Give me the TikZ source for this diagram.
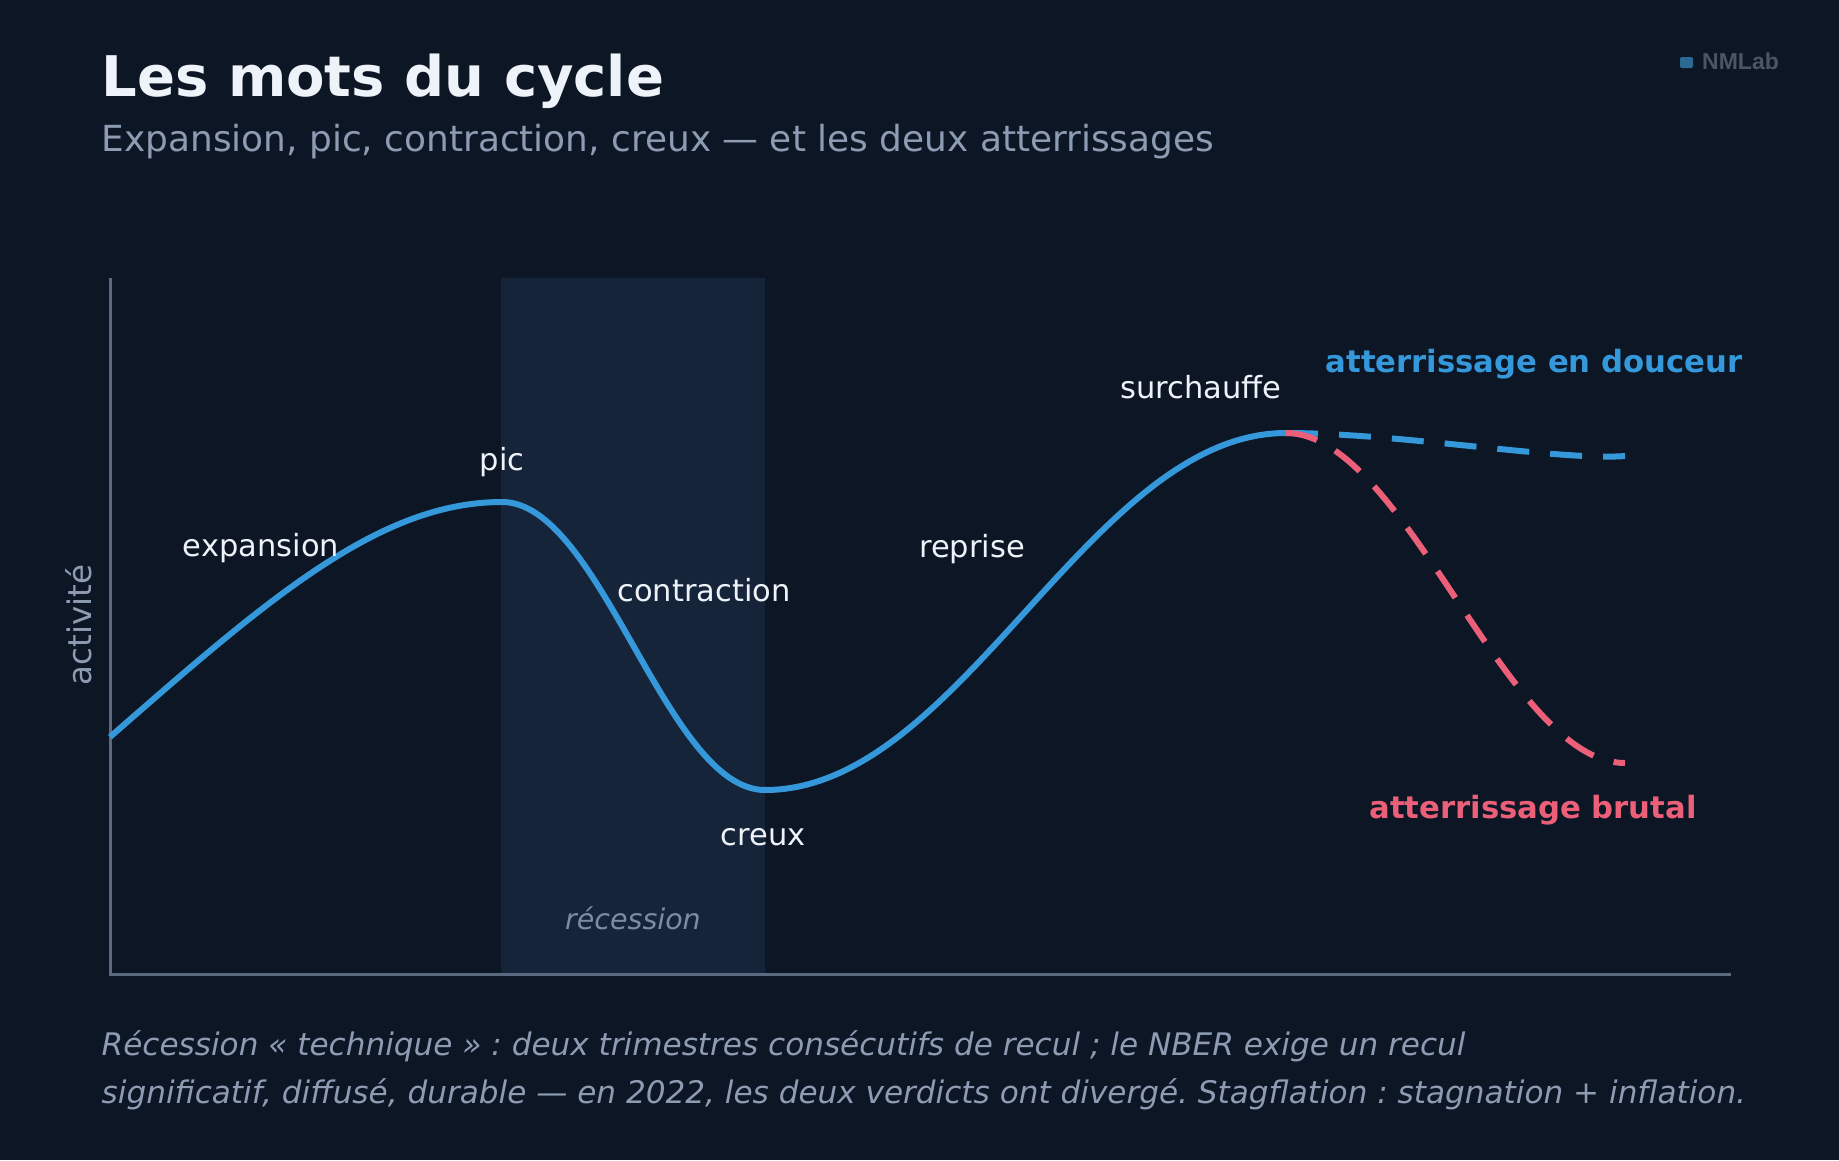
\documentclass[tikz,border=0pt]{standalone}
\usepackage{fontspec}
\setmainfont{DejaVu Sans}
\newfontfamily\logofont{Liberation Sans}
\newcommand\fsz[1]{\fontsize{#1}{#1}\selectfont}
\frenchspacing
\definecolor{bgc}{HTML}{0C1624}
\definecolor{bandc}{HTML}{16243A}
\definecolor{axisc}{HTML}{5B6A80}
\definecolor{bluec}{HTML}{3498DB}
\definecolor{redc}{HTML}{EC5F79}
\definecolor{whitec}{HTML}{EEF3F9}
\definecolor{grayc}{HTML}{8D9CB3}
\definecolor{mutedc}{HTML}{7D8CA3}
\definecolor{logoc}{HTML}{4B5566}
\definecolor{logosq}{HTML}{2D6A93}
\tikzset{
  lbl/.style={inner sep=0pt, anchor=base, text=whitec, font=\fsz{30.5}},
  axisline/.style={draw=axisc, line width=3pt},
  cyclecurve/.style={draw=bluec, line width=6pt, line join=round},
  landing/.style={line width=6pt, dash pattern=on 32pt off 21pt},
  foot/.style={inner sep=0pt, anchor=base west, text=grayc, font=\fsz{31.1}\itshape},
}
\begin{document}
\begin{tikzpicture}[x=1pt, y=-1pt]
\fill[bgc] (0,0) rectangle (1839,1160);
\useasboundingbox (0,0) rectangle (1839,1160);

% title block
\node[inner sep=0pt, anchor=base west, text=whitec, font=\fsz{56}\bfseries] (title) at (101.5,96) {Les mots du cycle};
\node[inner sep=0pt, anchor=base west, text=grayc, font=\fsz{35.9}] (subtitle) at (101.5,151) {Expansion, pic, contraction, creux — et les deux atterrissages};

% logo
\fill[logosq, rounded corners=2pt] (1680,57) rectangle (1693,68);
\node[inner sep=0pt, anchor=base west, text=logoc, font=\logofont\bfseries\fsz{23}] (logo) at (1702,69) {NMLab};

% recession band
\fill[bandc] (501,278) rectangle (765,974);

% axes
\coordinate (ytop) at (110,278);
\coordinate (origin) at (110,974);
\coordinate (xend) at (1731,974);
\draw[axisline] (ytop) -- (origin) -- (xend);

% key points of the cycle
\coordinate (S) at (110,737);
\coordinate (P) at (502,502);
\coordinate (T) at (765,790);
\coordinate (Q) at (1286,433);
\coordinate (E1) at (1625,456);
\coordinate (E2) at (1625,763);

\draw[cyclecurve] (S) .. controls (270,597) and (380,502) .. (P)
  .. controls (601,502) and (666,790) .. (T)
  .. controls (961,790) and (1090,433) .. (Q);
\draw[landing, draw=bluec] (Q) .. controls (1400,433) and (1560,461) .. (E1);
\draw[landing, draw=redc] (Q) .. controls (1405,433) and (1506,763) .. (E2);

% labels
\node[lbl] (lpic) at (502,470) {pic};
\node[lbl] (lexp) at (261,556) {expansion};
\node[lbl] (lcon) at (704,601) {contraction};
\node[lbl] (lcreux) at (763,845) {creux};
\node[lbl] (lrep) at (972,557) {reprise};
\node[lbl] (lsur) at (1201,398) {surchauffe};
\node[lbl, text=mutedc, font=\fsz{28.5}\itshape] (lrec) at (633,929) {récession};
\node[lbl, text=bluec, font=\fsz{30.7}\bfseries] (lsoft) at (1534,372) {atterrissage en douceur};
\node[lbl, text=redc, font=\fsz{30.7}\bfseries] (lhard) at (1533,818) {atterrissage brutal};
\node[lbl, text=grayc, rotate=90, font=\fsz{32.5}] (lact) at (91,625) {activité};

% footer
\node[foot] (foot1) at (101.5,1055) {Récession « technique » : deux trimestres consécutifs de recul ; le NBER exige un recul};
\node[foot] (foot2) at (101.5,1103) {significatif, diffusé, durable — en 2022, les deux verdicts ont divergé. Stagflation : stagnation + inflation.};
\end{tikzpicture}
\end{document}
